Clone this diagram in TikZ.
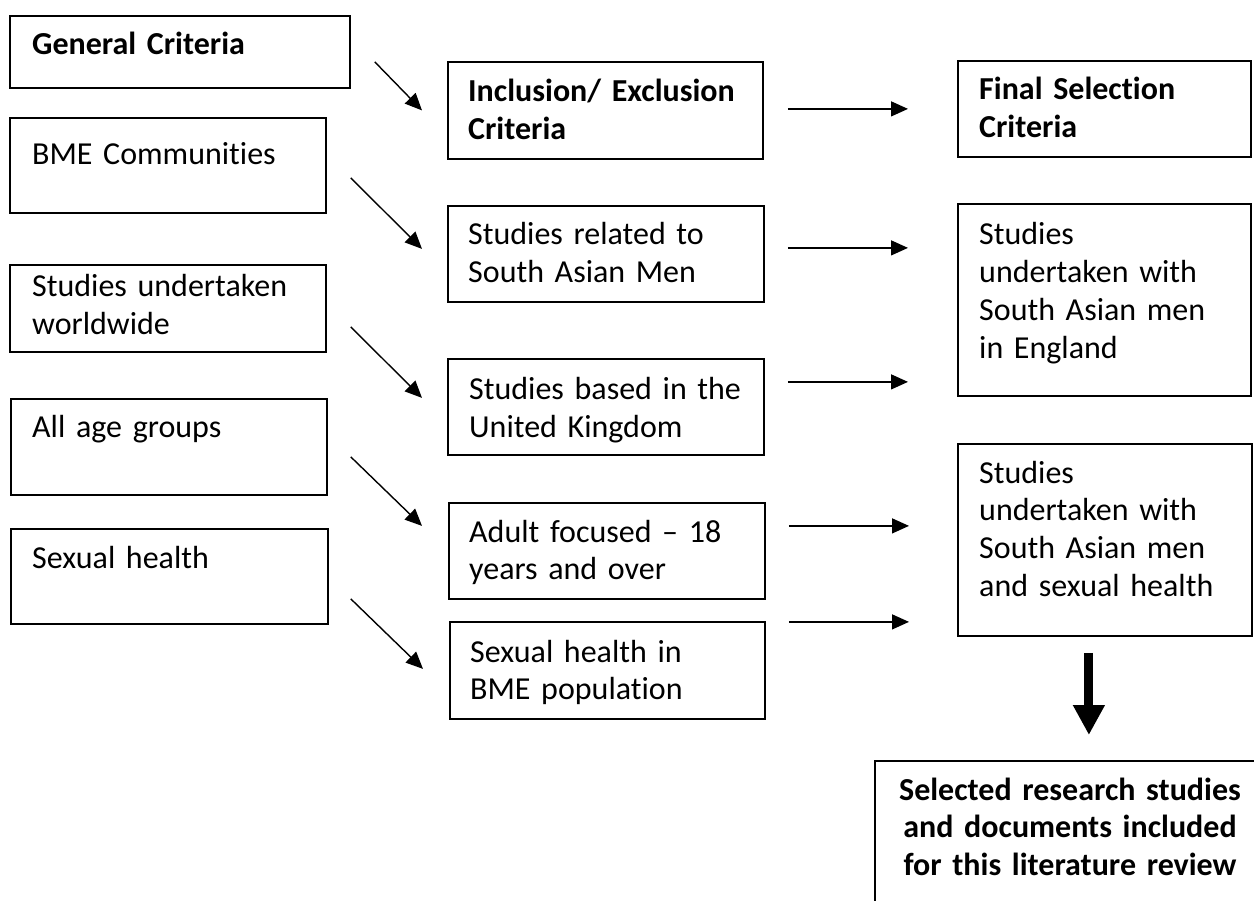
\documentclass[tikz,border=0pt]{standalone}
\usepackage{fontspec}
\setmainfont[RawFeature={-liga}]{Carlito}
\usetikzlibrary{arrows.meta}
\begin{document}
\begin{tikzpicture}[x=1pt,y=-1pt,
  box/.style={draw, line width=1.8pt, inner sep=0pt, anchor=north west},
  txt/.style={inner sep=0pt, anchor=base west, align=left, text width=320pt, font=\fontsize{32}{37.7}\selectfont},
  btxt/.style={txt, font=\fontsize{32}{37.7}\selectfont\bfseries},
  arr/.style={line width=1.4pt, -{Triangle[length=17pt,width=15pt]}},
  bigarr/.style={line width=9pt, -{Triangle[length=30pt,width=30pt]}}]
\clip (0,0) rectangle (1254,901);
\fill[white] (0,0) rectangle (1254,901);
% left column
\node[box, minimum width=340, minimum height=72] (gc) at (9,15) {};
\node[box, minimum width=316, minimum height=95] (bme) at (9,117) {};
\node[box, minimum width=316, minimum height=87] (sw) at (9,264) {};
\node[box, minimum width=316, minimum height=96] (age) at (10,398) {};
\node[box, minimum width=317, minimum height=95] (sh) at (10,528) {};
% middle column
\node[box, minimum width=315, minimum height=97] (ie) at (447,61) {};
\node[box, minimum width=316, minimum height=96] (sr) at (447,205) {};
\node[box, minimum width=316, minimum height=96] (uk) at (447,358) {};
\node[box, minimum width=316, minimum height=96] (af) at (448,502) {};
\node[box, minimum width=315, minimum height=97] (bp) at (449,621) {};
% right column
\node[box, minimum width=293, minimum height=96] (fs) at (957,60) {};
\node[box, minimum width=293, minimum height=192] (eng) at (957,203) {};
\node[box, minimum width=294, minimum height=192] (shm) at (957,443) {};
\node[box, minimum width=428, minimum height=220] (fin) at (874,760) {};
% texts
\node[btxt] (gct) at (32,55) {General Criteria};
\node[txt] (bmet) at (32,165) {BME Communities};
\node[txt] (swt) at (32,297) {Studies undertaken\\worldwide};
\node[txt] (aget) at (32,438) {All age groups};
\node[txt] (sht) at (32,568) {Sexual health};
\node[btxt] (iet) at (468,102) {Inclusion/ Exclusion\\Criteria};
\node[txt] (srt) at (468,245) {Studies related to\\South Asian Men};
\node[txt] (ukt) at (469,400) {Studies based in the\\United Kingdom};
\node[txt] (aft) at (469,542) {Adult focused – 18\\years and over};
\node[txt] (bpt) at (470,662) {Sexual health in\\BME population};
\node[btxt] (fst) at (979,100) {Final Selection\\Criteria};
\node[txt] (engt) at (979,245) {Studies\\undertaken with\\South Asian men\\in England};
\node[txt] (shmt) at (979,483) {Studies\\undertaken with\\South Asian men\\and sexual health};
\node[btxt, anchor=base, align=center, text width=420pt] (fint) at (1070,800) {Selected research studies\\and documents included\\for this literature review};
% diagonal arrows
\draw[arr] ([shift={(24,10)}]gc.east) -- ([shift={(-25,0)}]ie.west);
\draw[arr] ([shift={(24,12.5)}]bme.east) -- ([shift={(-25,-5)}]sr.west);
\draw[arr] ([shift={(24,18.5)}]sw.east) -- ([shift={(-25,-9)}]uk.west);
\draw[arr] ([shift={(23,10)}]age.east) -- ([shift={(-26,-25)}]af.west);
\draw[arr] ([shift={(22,22.5)}]sh.east) -- ([shift={(-26,-1.5)}]bp.west);
% horizontal arrows
\draw[arr] ([shift={(24,-1.5)}]ie.east) -- ([shift={(-49,0)}]fs.west);
\draw[arr] ([shift={(23,-6)}]sr.east) -- ([shift={(-49,-52)}]eng.west);
\draw[arr] ([shift={(23,-25)}]uk.east) -- ([shift={(-49,82)}]eng.west);
\draw[arr] ([shift={(23,-25)}]af.east) -- ([shift={(-48,-14)}]shm.west);
\draw[arr] ([shift={(23,-48.5)}]bp.east) -- ([shift={(-48,82)}]shm.west);
% thick arrow
\draw[bigarr] ([shift={(-16,16)}]shm.south) -- ([shift={(0,-25)}]fin.north);
\end{tikzpicture}
\end{document}
